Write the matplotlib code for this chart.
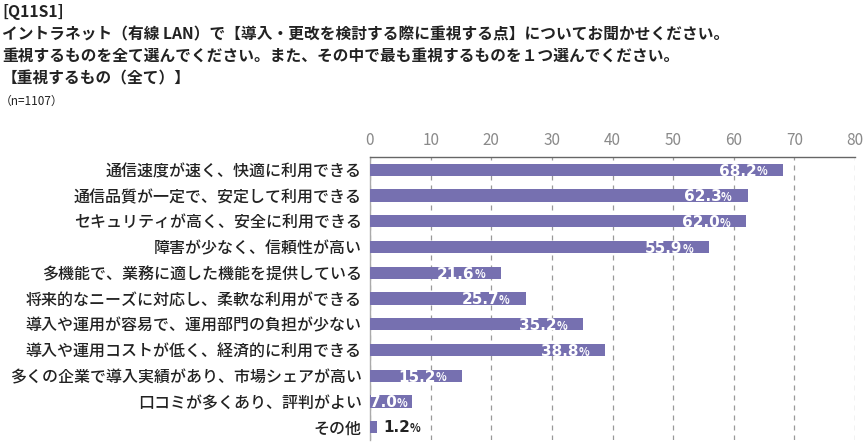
import matplotlib.pyplot as plt
import numpy as np

plt.rcParams['font.family'] = ['Noto Sans CJK JP', 'DejaVu Sans']

title_lines = [
    "[Q11S1]",
    "イントラネット（有線 LAN）で【導入・更改を検討する際に重視する点】についてお聞かせください。",
    "重視するものを全て選んでください。また、その中で最も重視するものを１つ選んでください。",
    "【重視するもの（全て）】",
]
n_note = "（n=1107）"

categories = [
    "通信速度が速く、快適に利用できる",
    "通信品質が一定で、安定して利用できる",
    "セキュリティが高く、安全に利用できる",
    "障害が少なく、信頼性が高い",
    "多機能で、業務に適した機能を提供している",
    "将来的なニーズに対応し、柔軟な利用ができる",
    "導入や運用が容易で、運用部門の負担が少ない",
    "導入や運用コストが低く、経済的に利用できる",
    "多くの企業で導入実績があり、市場シェアが高い",
    "口コミが多くあり、評判がよい",
    "その他",
]
values = [68.2, 62.3, 62.0, 55.9, 21.6, 25.7, 35.2, 38.8, 15.2, 7.0, 1.2]
xticks = [0, 10, 20, 30, 40, 50, 60, 70, 80]

bar_color = '#7670b0'
text_color = '#222222'

fig = plt.figure(figsize=(8.66, 4.43), dpi=100)
ax = fig.add_axes([370 / 866, 3 / 443, 485 / 866, 283 / 443])

y = np.arange(len(categories))
ax.barh(y, values, height=0.48, color=bar_color, zorder=3)

ax.set_xlim(0, 80)
ax.set_ylim(len(categories) - 0.5, -0.5)
ax.set_xticks(xticks)
ax.xaxis.tick_top()
ax.tick_params(axis='x', length=0, pad=6, labelsize=11, labelcolor='#8a8a8a')
ax.set_yticks(y)
ax.set_yticklabels(categories, fontsize=11.5, color=text_color, fontweight='medium')
ax.tick_params(axis='y', length=0, pad=6)
ax.grid(axis='x', linestyle=(0, (4, 4)), color='#999999', linewidth=0.9, zorder=0)

for s in ['right', 'bottom']:
    ax.spines[s].set_visible(False)
ax.spines['top'].set_color('#666666')
ax.spines['top'].set_linewidth(1.0)
ax.spines['left'].set_color('#aaaaaa')
ax.spines['left'].set_linewidth(1.0)

for i, v in enumerate(values):
    num = f"{v:.1f}"
    if v > 5:
        # short bars get the label pushed closer to the bar end so it fits
        off = -11.5 if v > 10 else -3.5
        ax.annotate('%', xy=(v, i), xytext=(off, -1.5), textcoords='offset points',
                    ha='right', va='center', color='white', fontsize=8,
                    fontweight='bold', zorder=4)
        ax.annotate(num, xy=(v, i), xytext=(off - 7.5, -1), textcoords='offset points',
                    ha='right', va='center', color='white', fontsize=11,
                    fontweight='bold', family='DejaVu Sans', zorder=4)
    else:
        ax.annotate(num, xy=(v, i), xytext=(4, -0.5), textcoords='offset points',
                    ha='left', va='center', color=text_color, fontsize=11,
                    fontweight='bold', family='DejaVu Sans', zorder=4)
        ax.annotate('%', xy=(v, i), xytext=(23.5, -1), textcoords='offset points',
                    ha='left', va='center', color=text_color, fontsize=8,
                    fontweight='bold', zorder=4)

ys = [12, 34, 56, 78]
for t, yy in zip(title_lines, ys):
    fig.text(2 / 866, 1 - yy / 443, t, fontsize=11.3, color=text_color,
             fontweight='bold', va='center', ha='left')
fig.text(0 / 866, 1 - 101 / 443, n_note, fontsize=8.5, color=text_color,
         va='center', ha='left')

fig.savefig('out.png', dpi=100)
